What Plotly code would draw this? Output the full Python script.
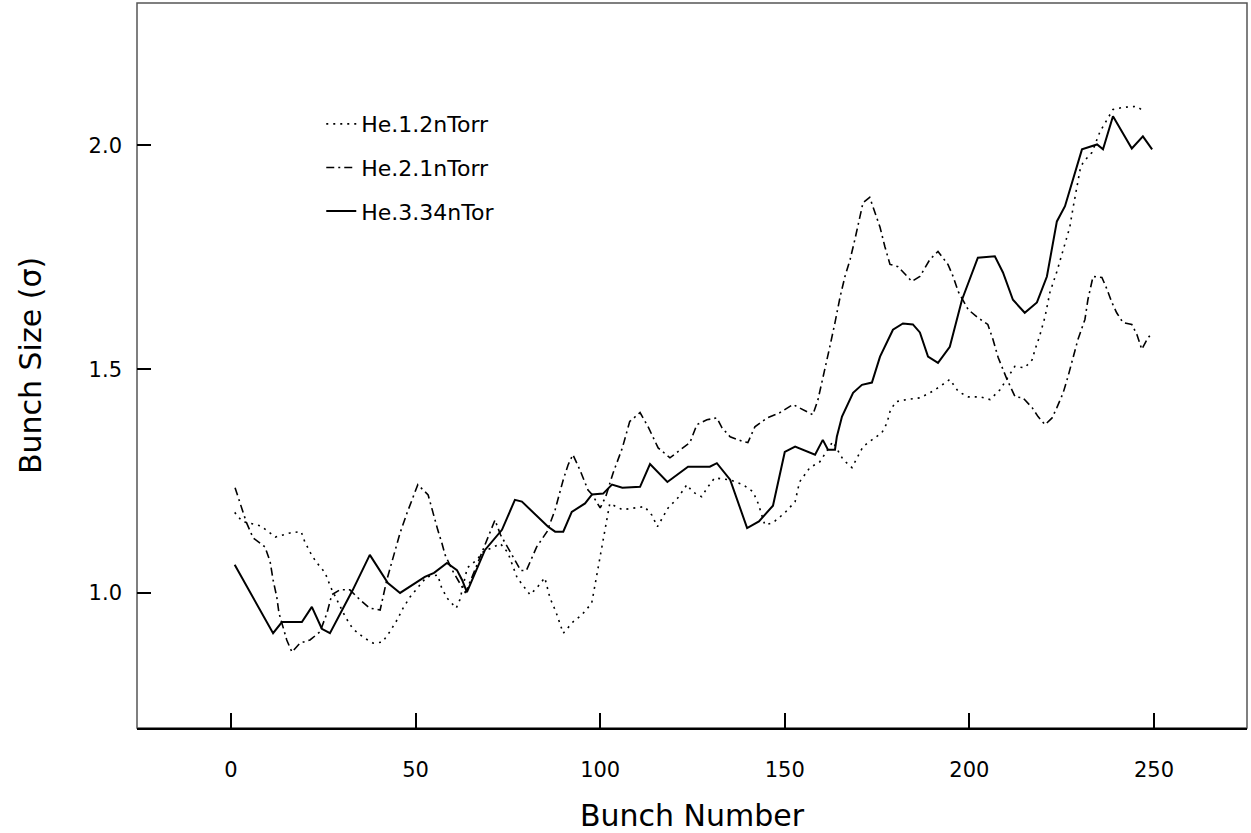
import plotly.graph_objects as go

# He.1.2nTorr (dotted)
x_he12 = [1,3,8,10,12,16,19,20,21.5,23,25.5,27,31,33,36,38.5,41,43,45,46.6,48.5,53,56,57,58.5,61,62,64,66.6,68.3,73,75,77.5,81,83,85,86.4,88,89,90,92.6,95,97.7,99.5,101.3,102.6,106,109.4,112,114,115.5,118.4,121,123.5,125,127.5,129,131,135,138.7,141.4,142.8,144.6,146.8,150,152.8,154,156.8,159.5,163,165.8,168.2,169.8,171.2,173.6,176.3,177.7,178.5,180,183,186.6,189.3,192,194.7,197,199.7,203,205.6,208.3,210,212.3,215,217,217.8,219,220.5,221.8,223.7,224.5,226.4,227.2,228.1,229.1,230,230.8,233.2,235.4,238.9,241.6,245.4,247.6]
y_he12 = [1.18,1.16,1.15,1.137,1.125,1.134,1.137,1.114,1.09,1.07,1.045,1.013,0.946,0.92,0.90,0.888,0.89,0.913,0.94,0.966,0.991,1.036,1.04,1.013,0.989,0.966,0.985,1.056,1.074,1.092,1.11,1.09,1.034,0.996,1.013,1.034,0.989,0.958,0.933,0.91,0.935,0.951,0.977,1.059,1.133,1.2,1.186,1.19,1.193,1.174,1.148,1.19,1.212,1.242,1.226,1.215,1.235,1.257,1.253,1.242,1.226,1.2,1.152,1.157,1.179,1.204,1.248,1.28,1.293,1.338,1.298,1.28,1.304,1.327,1.342,1.358,1.38,1.405,1.427,1.432,1.436,1.447,1.461,1.477,1.45,1.438,1.438,1.432,1.454,1.477,1.506,1.503,1.521,1.544,1.573,1.617,1.671,1.718,1.74,1.79,1.817,1.861,1.908,1.946,1.962,1.984,2.031,2.08,2.085,2.087,2.074]

# He.2.1nTorr (dash-dot)
x_he21 = [1.1,2.4,4.2,6,9.2,10.6,11.4,12.4,13,15.1,16.5,18.7,21.4,24.1,26,27.3,29.5,32.2,34.9,37.6,40.4,42.2,43.9,45.8,47.7,49,50.6,53.4,54.7,56,57.1,58,60,63.5,66,69,71.5,73,75,77,78.5,80,82.8,85.6,87.8,90,91.3,92.6,94.5,96.7,97.8,100,101.5,103.5,106,108,110.8,113,115.7,118.9,121.6,124.3,126.2,128.9,131.6,133,135.2,138.7,140,141.9,145.2,148.7,152.2,155,157.6,159,160.3,162.2,163.6,165,166.3,167.7,169,170.4,171.2,173,174.4,175.8,177.1,178.5,180.7,182.6,184.4,186.6,189.3,191.5,194.2,195.6,197,199.7,202.3,205,206.4,207.8,210.2,212.4,214.5,217,218.6,220.5,222.4,223.7,225.4,226.7,228.1,229.4,231.3,232.1,233.5,235.9,237.3,238.6,239.9,241.6,244,245.4,246.7,248.1,249.5]
y_he21 = [1.235,1.2,1.157,1.123,1.103,1.07,1.029,0.991,0.955,0.895,0.868,0.888,0.895,0.913,0.955,0.996,1.007,1.007,0.985,0.966,0.962,1.029,1.081,1.134,1.179,1.208,1.242,1.219,1.179,1.141,1.112,1.085,1.05,1.0,1.05,1.11,1.163,1.13,1.1,1.07,1.05,1.05,1.103,1.137,1.186,1.253,1.286,1.309,1.275,1.23,1.22,1.19,1.215,1.268,1.324,1.383,1.403,1.371,1.324,1.302,1.32,1.336,1.376,1.387,1.391,1.369,1.349,1.338,1.336,1.371,1.391,1.403,1.421,1.409,1.398,1.432,1.483,1.55,1.604,1.662,1.707,1.745,1.79,1.841,1.872,1.884,1.852,1.817,1.774,1.734,1.729,1.711,1.696,1.707,1.745,1.763,1.734,1.707,1.673,1.633,1.615,1.6,1.566,1.526,1.477,1.438,1.436,1.414,1.394,1.376,1.391,1.414,1.447,1.483,1.528,1.566,1.611,1.655,1.707,1.705,1.678,1.649,1.626,1.604,1.6,1.577,1.544,1.566,1.582]

# He.3.34nTor (solid)
x_he334 = [1,6,11.4,13.8,19.2,21.9,24.6,26.8,33,37.6,42.5,45.8,52.5,55,58.5,61.2,62.6,63.9,66.1,68.8,73.4,76.9,78.8,85.9,87.8,90,92.3,95.9,97.8,100.8,103.2,106,110.8,113.5,118.2,123.8,129.7,131.6,135.2,139.8,143,146.8,150,152.8,158.2,160.3,161.7,163.6,164.1,165.5,168.5,170.9,173.6,175.8,179.3,182,184.7,186.6,188.8,191.5,194.7,198,202.3,206.9,209.1,211.8,215,218.3,221,222.4,223.7,225.9,227.8,230.5,234.6,236.2,238.9,244,247,249.5]
y_he334 = [1.063,0.99,0.91,0.935,0.935,0.969,0.92,0.91,1.007,1.085,1.022,1.0,1.036,1.045,1.067,1.051,1.029,1.002,1.045,1.096,1.141,1.208,1.204,1.148,1.137,1.137,1.181,1.2,1.22,1.222,1.242,1.235,1.237,1.288,1.248,1.282,1.282,1.29,1.253,1.145,1.16,1.195,1.315,1.327,1.309,1.342,1.32,1.32,1.349,1.394,1.447,1.465,1.47,1.528,1.588,1.602,1.6,1.582,1.528,1.514,1.55,1.655,1.749,1.752,1.716,1.655,1.626,1.649,1.707,1.767,1.83,1.864,1.917,1.991,2.002,1.991,2.065,1.993,2.02,1.991]

series_names = ["He.1.2nTorr", "He.2.1nTorr", "He.3.34nTor"]
x_ticks = [0, 50, 100, 150, 200, 250]
y_ticks = [1.0, 1.5, 2.0]

FONT = "DejaVu Sans, Verdana, sans-serif"

fig = go.Figure()
fig.add_trace(go.Scatter(x=x_he12, y=y_he12, mode="lines", name=series_names[0],
                         legendgroup="a",
                         line=dict(color="black", width=1.6, dash="2px,5px")))
fig.add_trace(go.Scatter(x=x_he21, y=y_he21, mode="lines", name=series_names[1],
                         legendgroup="b",
                         line=dict(color="black", width=1.6, dash="8px,4px,2px,4px")))
fig.add_trace(go.Scatter(x=x_he334, y=y_he334, mode="lines", name=series_names[2],
                         legendgroup="c",
                         line=dict(color="black", width=2)))

fig.update_layout(
    width=1251, height=833, autosize=False,
    margin=dict(l=137, r=4, t=3, b=105, pad=0),
    paper_bgcolor="white", plot_bgcolor="white",
    font=dict(family=FONT, color="black", size=20),
    showlegend=True,
    legend=dict(x=0.166, y=0.862, xanchor="left", yanchor="top",
                bgcolor="rgba(0,0,0,0)", borderwidth=0,
                font=dict(family=FONT, size=22, color="black"),
                tracegroupgap=12, traceorder="grouped"),
    shapes=[dict(type="rect", xref="paper", yref="paper", x0=0, x1=1, y0=0, y1=1,
                 line=dict(color="#555555", width=1.5), layer="below")],
)

fig.update_xaxes(
    range=[-25.46, 275.2], tickvals=x_ticks, ticktext=[str(v) for v in x_ticks],
    ticks="inside", ticklen=15, tickwidth=1.5, tickcolor="black",
    showline=True, linecolor="black", linewidth=2, mirror=False,
    showgrid=False, zeroline=False, automargin=False,
    ticklabelstandoff=22,
    tickfont=dict(family=FONT, size=21),
    title=dict(text="Bunch Number", font=dict(family=FONT, size=30), standoff=29),
)
fig.update_yaxes(
    range=[0.6983, 2.318], tickvals=y_ticks, ticktext=["1.0", "1.5", "2.0"],
    ticks="inside", ticklen=14, tickwidth=1.5, tickcolor="black",
    showline=False, showgrid=False, zeroline=False, automargin=False,
    ticklabelstandoff=14,
    tickfont=dict(family=FONT, size=21),
    title=dict(text="Bunch Size (σ)", font=dict(family=FONT, size=30), standoff=38),
)

fig.write_html("out.html")
